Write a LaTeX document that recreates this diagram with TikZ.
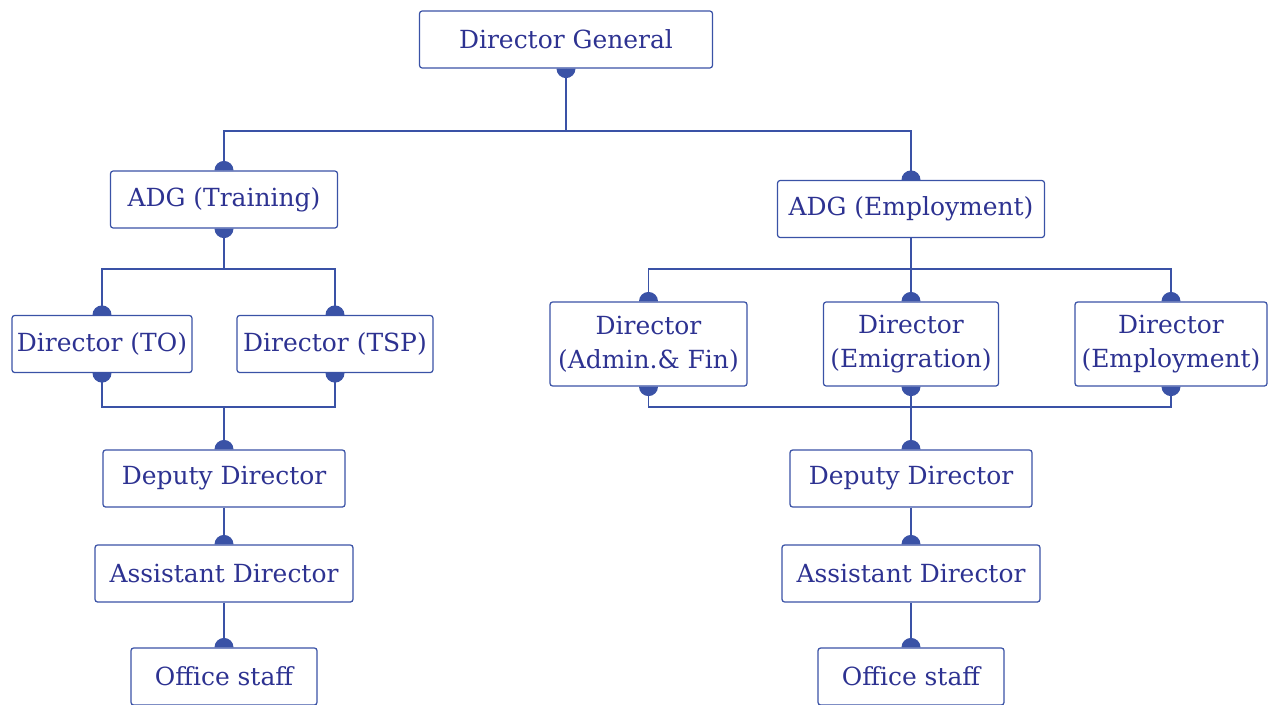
\documentclass[tikz,border=0pt]{standalone}
\usepackage{fontspec}
\setmainfont{DejaVu Serif}
\usetikzlibrary{positioning}

\definecolor{linec}{RGB}{58,82,166}
\definecolor{textc}{RGB}{45,50,145}

\tikzset{
  box/.style={draw=linec, line width=0.7pt, rounded corners=1.5pt, text=textc,
    align=center, font=\fontsize{14.2}{19.4}\selectfont, inner sep=0pt,
    minimum height=1.14cm, minimum width=#1},
  link/.style={draw=linec, line width=0.7pt}
}
% half dots on the box edges
\newcommand\updot[1]{\fill[linec] ([xshift=-0.19cm]#1.north) arc (180:0:0.19cm) -- cycle;}
\newcommand\downdot[1]{\fill[linec] ([xshift=-0.19cm]#1.south) arc (180:360:0.19cm) -- cycle;}

\begin{document}
\begin{tikzpicture}[x=0.02cm, y=-0.02cm]
\useasboundingbox (0,0) rectangle (1268,704);

\node (dg) [box=5.86cm] at (566,39.5) {Director General};
\node (adgt) [box=4.54cm] at (224,199.5) {ADG (Training)};
\node (adge) [box=5.34cm] at (911,209) {ADG (Employment)};

\node (dto) [box=3.6cm] at (102,344) {Director (TO)};
\node (dtsp) [box=3.92cm] at (335,344) {Director (TSP)};
\node (dadm) [box=3.94cm, minimum height=1.68cm] at (648.5,344) {Director\\(Admin.\& Fin)};
\node (demi) [box=3.5cm, minimum height=1.68cm] at (911,344) {Director\\(Emigration)};
\node (demp) [box=3.84cm, minimum height=1.68cm] at (1171,344) {Director\\(Employment)};

\node (depl) [box=4.84cm] at (224,478.5) {Deputy Director};
\node (asstl) [box=5.16cm] at (224,573.5) {Assistant Director};
\node (offl) [box=3.72cm] at (224,676.5) {Office staff};

\node (depr) [box=4.84cm] at (911,478.5) {Deputy Director};
\node (asstr) [box=5.16cm] at (911,573.5) {Assistant Director};
\node (offr) [box=3.72cm] at (911,676.5) {Office staff};

\coordinate (busa) at (566,131);
\coordinate (busb) at (224,269);
\coordinate (busc) at (911,269);
\coordinate (busd) at (224,407);
\coordinate (buse) at (911,407);

% connectors
\draw[link] (dg.south) -- (busa);
\draw[link] (adgt.north) |- (busa) -| (adge.north);
\draw[link] (adgt.south) -- (busb);
\draw[link] (dto.north) |- (busb) -| (dtsp.north);
\draw[link] (adge.south) -- (busc);
\draw[link] (dadm.north) |- (busc) -| (demp.north);
\draw[link] (busc) -- (demi.north);
\draw[link] (dto.south) |- (busd) -| (dtsp.south);
\draw[link] (busd) -- (depl.north);
\draw[link] (dadm.south) |- (buse) -| (demp.south);
\draw[link] (demi.south) -- (depr.north);
\draw[link] (depl) -- (asstl);
\draw[link] (asstl) -- (offl);
\draw[link] (depr) -- (asstr);
\draw[link] (asstr) -- (offr);

% dots
\downdot{dg}
\updot{adgt} \updot{adge}
\downdot{adgt}
\updot{dto} \updot{dtsp}
\downdot{dto} \downdot{dtsp}
\updot{dadm} \updot{demi} \updot{demp}
\downdot{dadm} \downdot{demi} \downdot{demp}
\updot{depl} \updot{asstl} \updot{offl}
\updot{depr} \updot{asstr} \updot{offr}
\end{tikzpicture}
\end{document}
